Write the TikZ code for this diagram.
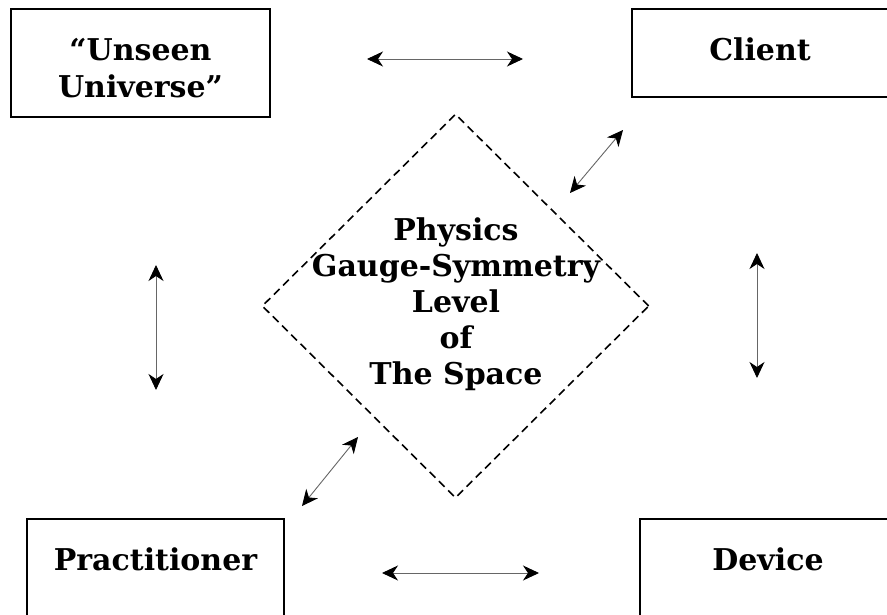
\documentclass[tikz,border=0pt]{standalone}
\usepackage{fontspec}
\setmainfont{DejaVu Serif}
\usetikzlibrary{shapes.geometric, arrows.meta}

\begin{document}
\begin{tikzpicture}[x=1pt, y=-1pt,
        box/.style={draw, line width=1.8pt, rectangle, inner sep=0pt, align=center,
            font=\fontsize{30}{37}\selectfont\bfseries},
        link/.style={{Stealth[length=16pt,width=15pt,inset=5pt,black]}-{Stealth[length=16pt,width=15pt,inset=5pt,black]},
            line width=0.9pt, draw=black!60}]
            \useasboundingbox (0,0) rectangle (887,615);
            \clip (0,0) rectangle (887,615);
            \node[box, minimum width=259pt, minimum height=108pt, text height=70pt, text depth=0pt] (unseen) at (140.5,63) {“Unseen\\Universe”};
            \node[box, minimum width=256pt, minimum height=88pt, text height=23pt, text depth=7pt] (client) at (760,53) {Client};
            \node[box, minimum width=257pt, minimum height=110pt, text height=23pt, text depth=31pt] (practitioner) at (155.5,574) {Practitioner};
            \node[box, minimum width=256pt, minimum height=110pt, text height=23pt, text depth=31pt] (device) at (768,574) {Device};
            \node[diamond, draw, dash pattern=on 8pt off 5pt, line width=1.6pt, inner sep=0pt,
                minimum width=387pt, minimum height=384pt] (space) at (455.5,306) {};
            \node[align=center, font=\fontsize{30}{36}\selectfont\bfseries] (spacetext) at (456,304.5)
                {Physics\\Gauge-Symmetry\\Level\\of\\The Space};
            \coordinate (uc1) at (367,59);  \coordinate (uc2) at (523,59);
            \coordinate (cs1) at (623,130); \coordinate (cs2) at (570,193);
            \coordinate (up1) at (156,265); \coordinate (up2) at (156,390);
            \coordinate (cd1) at (757,253); \coordinate (cd2) at (757,378);
            \coordinate (pd1) at (382,573); \coordinate (pd2) at (539,573);
            \coordinate (ps1) at (358,437); \coordinate (ps2) at (302,506);
            \draw[link] (uc1) -- (uc2);
            \draw[link] (cs1) -- (cs2);
            \draw[link] (up1) -- (up2);
            \draw[link] (cd1) -- (cd2);
            \draw[link] (pd1) -- (pd2);
            \draw[link] (ps1) -- (ps2);
        \end{tikzpicture}
\end{document}
